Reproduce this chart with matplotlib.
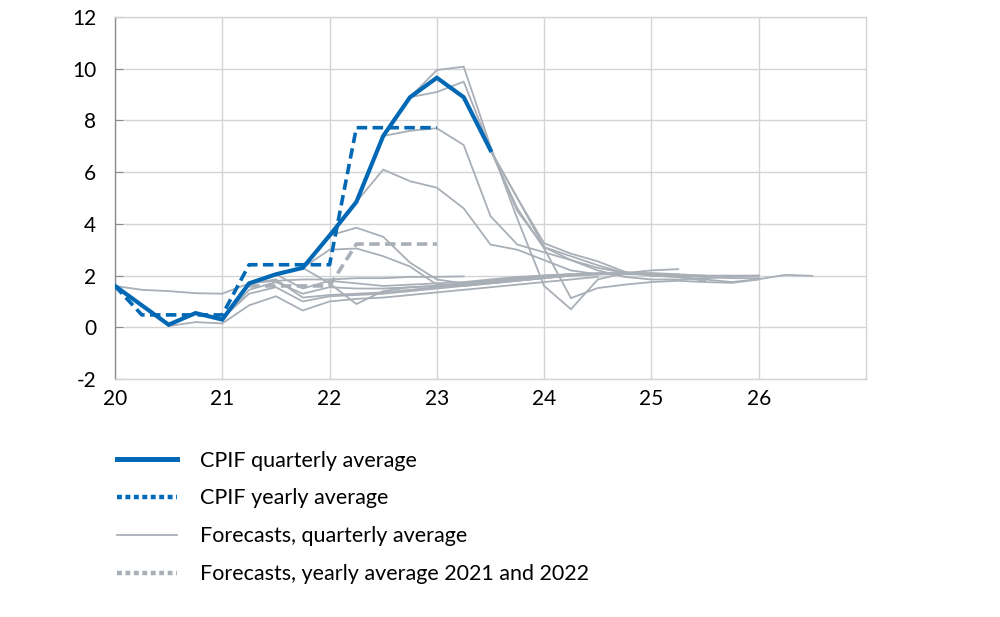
import matplotlib
matplotlib.use("Agg")
import matplotlib.pyplot as plt
from matplotlib.lines import Line2D
import numpy as np

plt.rcParams['font.family'] = ['Lato', 'DejaVu Sans']

# ---- data ----
cpif_start = 20.0
cpif_quarterly = [1.6, 0.85, 0.1, 0.55, 0.3, 1.7, 2.05, 2.3, 3.55, 4.85, 7.4, 8.9, 9.65, 8.9, 6.85]

cpif_yearly_x = [20.0, 20.25, 21.0, 21.25, 22.0, 22.25, 23.0]
cpif_yearly = [1.6, 0.48, 0.48, 2.42, 2.42, 7.72, 7.72]

fc_yearly_x = [21.25, 22.0, 22.25, 23.0]
fc_yearly = [1.6, 1.6, 3.22, 3.22]

forecast_starts = [20.0, 20.5, 20.75, 21.0, 21.25, 21.5, 21.75, 21.75,
                   22.0, 22.25, 22.5, 22.75, 22.75, 23.0, 23.25, 23.5]
forecast_values = [
    [1.6, 1.45, 1.4, 1.32, 1.3, 1.7, 1.8, 1.85, 1.85, 1.9, 1.9, 1.95, 1.95, 1.97],
    [0.05, 0.2, 0.15, 0.85, 1.2, 0.65, 1.0, 1.1, 1.15, 1.25, 1.35, 1.45, 1.55, 1.65, 1.75, 1.85, 1.95],
    [0.55, 0.35, 1.3, 1.55, 1.0, 1.2, 1.25, 1.3, 1.4, 1.5, 1.6, 1.7, 1.8, 1.9, 2.0],
    [0.3, 1.45, 1.75, 1.3, 1.55, 1.5, 1.5, 1.55, 1.6, 1.7, 1.8, 1.9, 2.0, 2.05],
    [1.7, 1.85, 1.15, 1.25, 1.3, 1.35, 1.45, 1.55, 1.65, 1.75, 1.85, 1.95, 2.05],
    [2.05, 1.5, 1.8, 1.7, 1.6, 1.65, 1.7, 1.75, 1.85, 1.95, 2.0, 2.05, 2.05],
    [2.3, 1.7, 0.9, 1.4, 1.55, 1.6, 1.7, 1.8, 1.9, 2.0, 2.05, 2.1, 2.1],
    [2.3, 3.0, 3.05, 2.75, 2.35, 1.65, 1.6, 1.7, 1.8, 1.9, 2.0, 2.05, 2.1, 2.1, 2.05],
    [3.55, 3.85, 3.5, 2.5, 1.85, 1.7, 1.8, 1.9, 1.95, 2.0, 2.05, 2.05, 2.05, 2.05, 2.0],
    [4.85, 6.1, 5.65, 5.4, 4.6, 3.2, 3.0, 2.6, 2.2, 2.05, 2.1, 2.2, 2.25],
    [7.4, 7.6, 7.7, 7.05, 4.3, 3.2, 2.9, 2.6, 2.2, 1.95, 1.85, 1.85, 1.9, 1.95, 2.0],
    [8.9, 9.1, 9.5, 6.9, 4.5, 3.1, 2.75, 2.4, 2.1, 2.0, 1.95, 1.8],
    [8.9, 9.95, 10.08, 7.0, 4.2, 1.6, 0.7, 1.85, 2.1, 2.05, 2.0, 1.95, 1.9, 1.9],
    [9.65, 8.9, 6.85, 5.0, 3.25, 2.85, 2.55, 2.15, 2.0, 1.95, 1.85, 1.75, 1.86, 2.03, 1.99],
    [8.9, 6.85, 4.6, 3.05, 1.13, 1.52, 1.65, 1.75, 1.8, 1.75, 1.72, 1.85],
    [6.85, 5.0, 3.1, 2.6, 2.3, 2.1, 2.05, 2.0, 2.0, 2.0, 2.0],
]

x_ticks = [20, 21, 22, 23, 24, 25, 26]
y_ticks = [-2, 0, 2, 4, 6, 8, 10, 12]

legend_labels = ["CPIF quarterly average", "CPIF yearly average",
                 "Forecasts, quarterly average", "Forecasts, yearly average 2021 and 2022"]

# ---- style ----
BLUE = "#0068B4"
GRAY = "#A9AFB7"
GRID = "#D4D4D4"

fig = plt.figure(figsize=(10, 6.17), dpi=100)
ax = fig.add_axes([0.115, 0.3857, 0.751, 0.5867])

for start, vals in zip(forecast_starts, forecast_values):
    xs = start + 0.25 * np.arange(len(vals))
    ax.plot(xs, vals, color=GRAY, lw=1.3, zorder=2, solid_joinstyle='miter')

ax.plot(fc_yearly_x, fc_yearly, color=GRAY, lw=2.6, ls=(0, (2.9, 1.5)), zorder=3)

ax.plot(cpif_yearly_x, cpif_yearly, color=BLUE, lw=2.6, ls=(0, (2.9, 1.5)), zorder=4)
xq = cpif_start + 0.25 * np.arange(len(cpif_quarterly))
ax.plot(xq, cpif_quarterly, color=BLUE, lw=3.0, zorder=5, solid_joinstyle='miter')

ax.set_xlim(20, 27)
ax.set_ylim(-2, 12)
ax.set_xticks(x_ticks)
ax.set_yticks(y_ticks)
ax.set_xticklabels([str(t) for t in x_ticks])
ax.set_yticklabels([str(t) for t in y_ticks])
ax.grid(True, color=GRID, lw=1.0, zorder=0)
ax.set_axisbelow(True)
for s in ['top', 'right', 'bottom']:
    ax.spines[s].set_color(GRID)
    ax.spines[s].set_linewidth(1.0)
ax.spines['left'].set_color('#8C8C8C')
ax.spines['left'].set_linewidth(1.0)
ax.tick_params(axis='y', direction='in', length=6, color='#8C8C8C', labelsize=15, pad=13.5)
ax.tick_params(axis='x', length=0, labelsize=15, pad=7)

handles = [
    Line2D([], [], color=BLUE, lw=3.6),
    Line2D([], [], color=BLUE, lw=3.2, ls=(0, (1.1, 0.8))),
    Line2D([], [], color=GRAY, lw=1.3),
    Line2D([], [], color=GRAY, lw=3.2, ls=(0, (1.1, 0.8))),
]
fig.legend(handles, legend_labels, loc='upper left', bbox_to_anchor=(0.108, 0.2836),
           frameon=False, fontsize=15.5, handlelength=2.8, handletextpad=1.07,
           labelspacing=0.83, borderaxespad=0)

fig.savefig("out.png", dpi=100)
